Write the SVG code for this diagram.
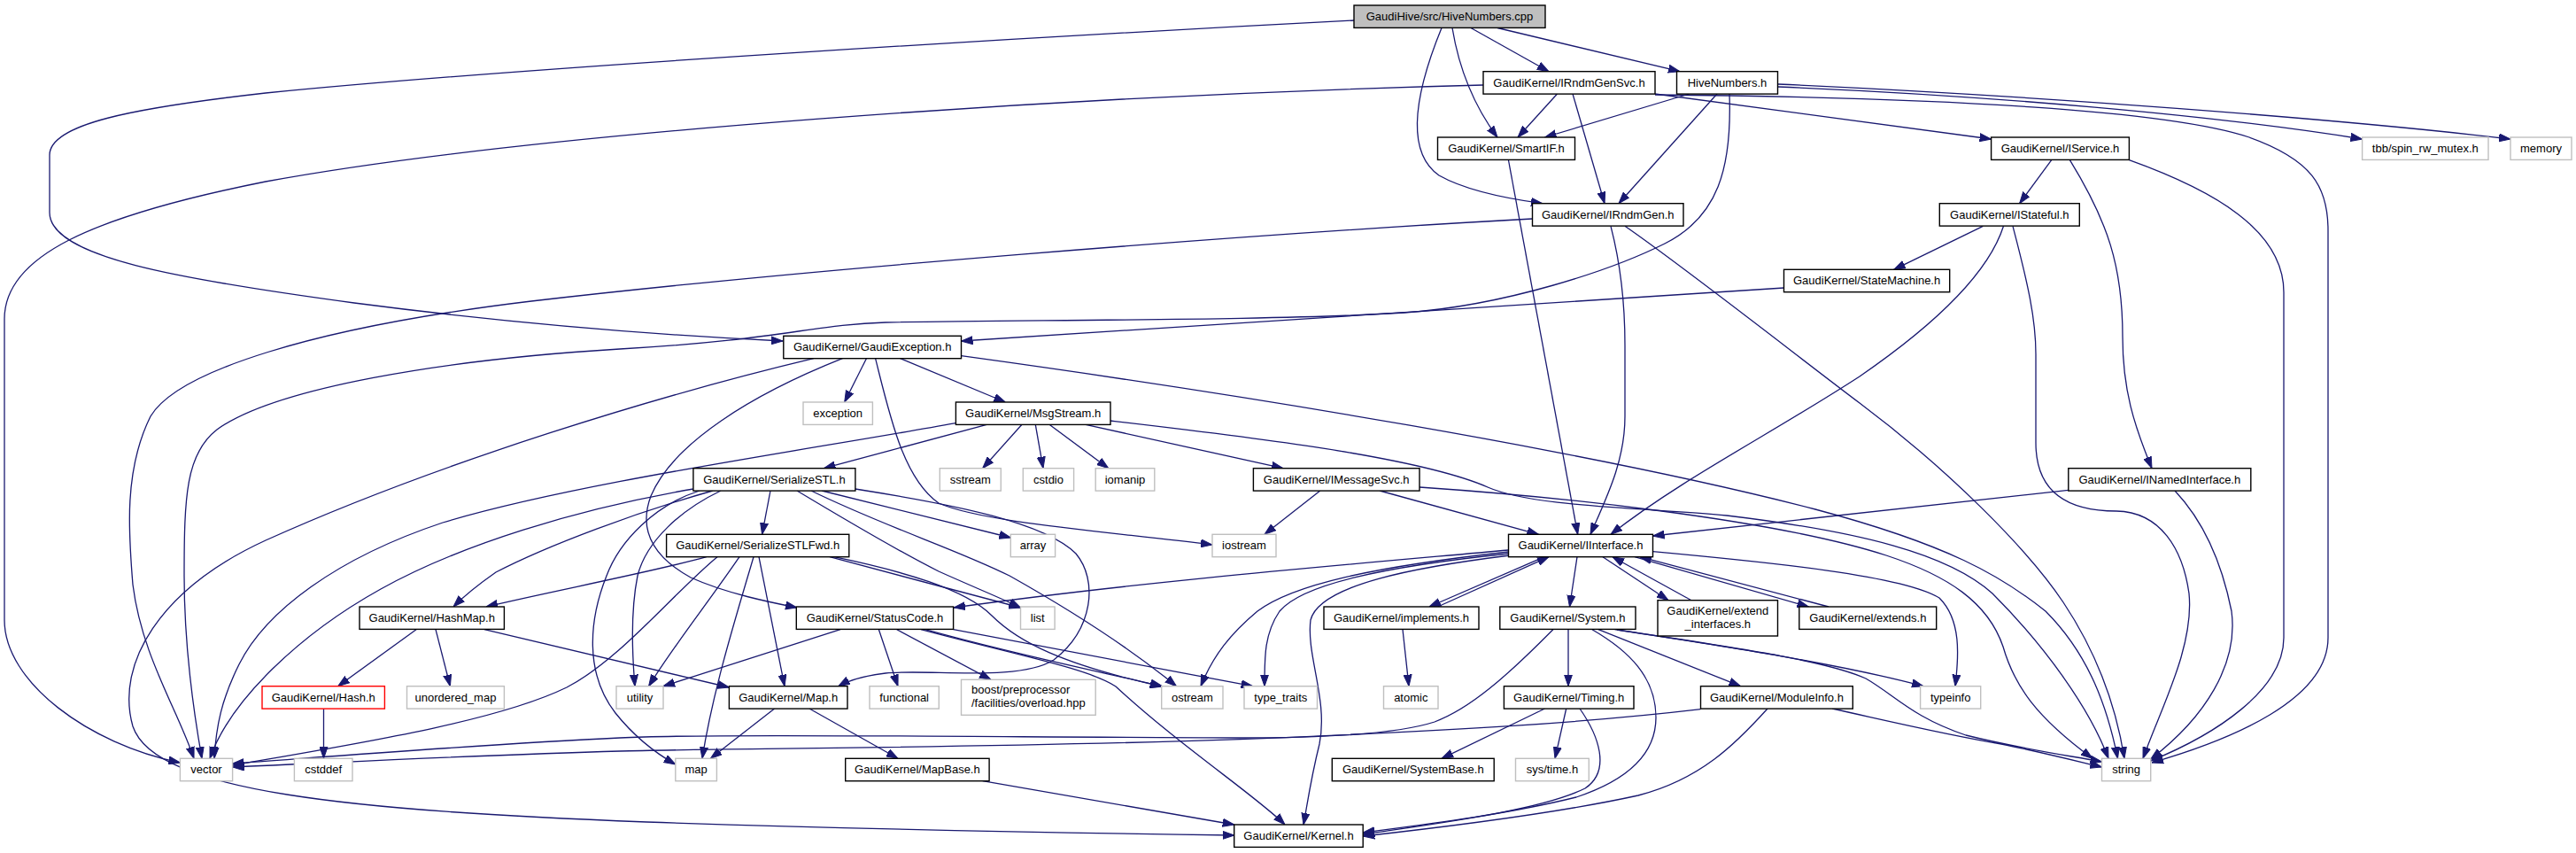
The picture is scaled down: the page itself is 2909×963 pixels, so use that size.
<svg xmlns="http://www.w3.org/2000/svg" width="2909" height="963" viewBox="0 0 2909 963">
<style>
.e{fill:none;stroke:#191970;stroke-width:1.3;marker-end:url(#a)}
.n rect{fill:#fff;stroke:#000;stroke-width:1.4}
.x rect{fill:#fff;stroke:#bfbfbf;stroke-width:1.4}
.r rect{fill:#fff;stroke:#ff0000;stroke-width:1.4}
.root rect{fill:#bfbfbf;stroke:#000;stroke-width:1.4}
text{font-family:"Liberation Sans",Arial,sans-serif;font-size:13px;fill:#000;text-anchor:middle}
text.l{text-anchor:start}
</style>
<defs>
<marker id="a" markerWidth="13" markerHeight="10" refX="13" refY="5" orient="auto" markerUnits="userSpaceOnUse"><path d="M0,0.5 L13,5 L0,9.5 z" fill="#191970" stroke="#191970" stroke-width="1"/></marker>
</defs>
<rect width="2909" height="963" fill="#fff"/>
<g id="edges">
<path class="e" d="M1529,23 C1200,40 600,75 300,105 C150,122 56,140 56,175 L56,240 C56,290 200,315 400,342 C600,368 780,380 884,385"/>
<path class="e" d="M1661,31.5 L1749,80.7"/>
<path class="e" d="M1640,31.5 C1648,80 1665,120 1691,155"/>
<path class="e" d="M1628,31.5 C1600,100 1585,170 1625,198 C1655,215 1700,224 1742,229.7"/>
<path class="e" d="M1691,31.5 L1897,80.7"/>
<path class="e" d="M1758.5,106 L1714,155"/>
<path class="e" d="M1776,106 L1812,229.7"/>
<path class="e" d="M1675,96 C1200,108 600,150 300,205 C100,245 5,290 5,360 L5,700 C5,770 100,840 203.4,861"/>
<path class="e" d="M1869,106 L2248.6,157"/>
<path class="e" d="M1869,107 C2200,110 2450,125 2540,155 C2610,180 2629,210 2629,260 L2629,720 C2629,790 2520,835 2430,861"/>
<path class="e" d="M1907.5,106 L1744.5,155"/>
<path class="e" d="M1939,106 L1828,229.7"/>
<path class="e" d="M1953,106 C1956,190 1940,245 1880,275 C1820,305 1700,345 1586,353 C1450,362 1150,361 1000,364 C920,366 880,384 700,394 C500,406 310,438 245,485 C210,512 208,560 208,650 C208,730 218,800 228,856.3"/>
<path class="e" d="M2007.5,98 C2250,108 2500,130 2667.6,157"/>
<path class="e" d="M2007.5,95 C2300,108 2650,135 2835,157"/>
<path class="e" d="M1703.5,181 L1781.7,603.3"/>
<path class="e" d="M1819,255.3 C1828,290 1835,330 1835,390 L1835,470 C1835,520 1815,560 1796,603.3"/>
<path class="e" d="M1730.5,247 C1400,265 900,305 600,340 C350,370 200,420 170,470 C140,530 145,600 150,660 C160,740 200,800 219,856.3"/>
<path class="e" d="M1835,255.3 C1900,300 2040,410 2100,455 C2200,530 2290,620 2330,680 C2370,740 2390,800 2399,856.3"/>
<path class="e" d="M2316.7,180.7 L2280.6,229.7"/>
<path class="e" d="M2337.4,180.7 C2380,250 2397,300 2397,380 C2397,440 2410,480 2430,528.7"/>
<path class="e" d="M2404.4,180.7 C2500,215 2579,260 2579,330 L2579,720 C2579,780 2500,830 2428.7,859"/>
<path class="e" d="M2239.3,255.3 L2138.7,304.3"/>
<path class="e" d="M2262.5,255.3 C2245,310 2180,370 2100,425 C2000,490 1900,540 1819,603.3"/>
<path class="e" d="M2273,255.3 C2290,320 2299,360 2299,400 L2299,500 C2299,560 2340,577 2390,577 C2440,578 2465,620 2472,670 C2478,730 2440,800 2420,856.3"/>
<path class="e" d="M2014.5,325 L1085.5,385"/>
<path class="e" d="M978.4,404.7 L953.7,454"/>
<path class="e" d="M1016.6,404.7 L1135.3,454"/>
<path class="e" d="M988.6,404.7 C1005,470 1020,540 1060,568 C1110,590 1250,600 1369,615"/>
<path class="e" d="M1085.5,401.7 C1400,445 1800,510 2050,575 C2200,615 2260,650 2310,690 C2360,740 2380,800 2391.5,856.3"/>
<path class="e" d="M951.4,404.7 C850,445 760,500 735,560 C720,600 740,630 780,652 C820,670 870,680 900,686"/>
<path class="e" d="M918.8,404.7 C750,445 500,520 300,610 C180,665 130,750 150,820 C175,895 400,915 730,928 C1000,937 1250,941 1393.7,943"/>
<path class="e" d="M1114.3,479.3 L930.4,528.7"/>
<path class="e" d="M1154,479.3 L1109.7,528.7"/>
<path class="e" d="M1169.3,479.3 L1178,528.7"/>
<path class="e" d="M1185,479.3 L1251.7,528.7"/>
<path class="e" d="M1226,479.3 L1449,528.7"/>
<path class="e" d="M1254,475 C1400,492 1600,515 1680,550 C1730,572 1850,573 1950,582 C2100,600 2200,625 2250,670 C2310,730 2360,800 2381,856.3"/>
<path class="e" d="M1079.4,477.7 C900,510 650,545 500,590 C380,630 300,690 270,750 C250,790 244,820 242,856.3"/>
<path class="e" d="M870,554 L860.6,603.3"/>
<path class="e" d="M928,554 L1141.3,607"/>
<path class="e" d="M783,552 C650,575 520,615 430,665 C340,715 260,790 237,856.3"/>
<path class="e" d="M805,554 C720,578 620,615 560,646 C540,660 525,672 512,685"/>
<path class="e" d="M814,554 C770,575 730,610 720,650 C712,690 714,740 717,774.7"/>
<path class="e" d="M790,554 C740,570 700,610 685,650 C665,700 660,760 695,805 C715,830 740,850 762.8,863"/>
<path class="e" d="M900,554 C960,590 1020,625 1060,645 C1100,663 1130,675 1152.5,686"/>
<path class="e" d="M916,554 C1000,595 1080,620 1140,650 C1220,695 1280,735 1328.5,774.7"/>
<path class="e" d="M965.8,552 C1080,570 1180,590 1215,625 C1240,655 1235,710 1190,745 C1150,770 1050,755 1000,760 C975,763 960,767 946.7,774.7"/>
<path class="e" d="M797.8,628.7 C740,645 620,668 549,685"/>
<path class="e" d="M810,628.7 C760,670 700,745 640,776 C560,815 400,840 262.6,864"/>
<path class="e" d="M835,628.7 C800,680 760,730 732.6,774.7"/>
<path class="e" d="M851,628.7 C830,700 805,780 793,856.3"/>
<path class="e" d="M857,628.7 L886,774.7"/>
<path class="e" d="M937,628.7 L1152.5,686"/>
<path class="e" d="M942,628.7 C1020,645 1090,665 1120,695 C1150,725 1200,750 1311.7,775"/>
<path class="e" d="M470,710.7 L381.7,774.7"/>
<path class="e" d="M492,710.7 L508.4,774.7"/>
<path class="e" d="M547,710.7 L823.4,776"/>
<path class="e" d="M365.5,800 L365.5,856.3"/>
<path class="e" d="M949,710.7 L749,774.7"/>
<path class="e" d="M992.4,710.7 L1014,774.7"/>
<path class="e" d="M1012.8,710.7 L1119,767.3"/>
<path class="e" d="M1045,710.7 C1150,740 1250,760 1313,775"/>
<path class="e" d="M1040,710.7 C1150,740 1230,755 1260,775 C1330,840 1420,900 1451,931"/>
<path class="e" d="M1076.6,710.7 L1414.6,774.7"/>
<path class="e" d="M874.6,800 L802.4,856.3"/>
<path class="e" d="M914,800 L1014,856.3"/>
<path class="e" d="M1109.7,881.7 L1393.7,931"/>
<path class="e" d="M1584,710.7 L1591,774.7"/>
<path class="e" d="M1623.5,685 L1749,628.7"/>
<path class="e" d="M1744,628.7 L1614,685"/>
<path class="e" d="M1781,628.7 L1772.5,685"/>
<path class="e" d="M1810,628.7 L1884,677.7"/>
<path class="e" d="M1910,677.7 L1821,628.7"/>
<path class="e" d="M1846,628.7 L2042.5,685"/>
<path class="e" d="M2065,685 L1852,628.7"/>
<path class="e" d="M1703.5,621 C1550,635 1300,655 1077,686"/>
<path class="e" d="M1703.5,623 C1550,640 1460,660 1420,690 C1390,715 1370,740 1356,774.7"/>
<path class="e" d="M1703.5,625 C1560,640 1470,660 1445,690 C1428,715 1428,740 1428,774.7"/>
<path class="e" d="M1705,627 C1600,640 1490,660 1480,700 C1475,740 1500,790 1490,840 C1480,880 1476,910 1472,931"/>
<path class="e" d="M1866.5,622.7 C2000,635 2150,650 2190,675 C2215,700 2212,740 2208,774.7"/>
<path class="e" d="M1771,710.7 L1771,774.7"/>
<path class="e" d="M1805,710.7 L1965.6,774.7"/>
<path class="e" d="M1798,710.7 C1840,735 1870,765 1870,810 C1870,850 1840,880 1780,900 C1700,920 1600,932 1539.2,940"/>
<path class="e" d="M1753.8,710.7 C1700,765 1660,800 1620,815 C1580,828 1500,833 1400,833 C1100,832 800,828 700,833 C550,840 400,852 262.6,862"/>
<path class="e" d="M1823.6,710.7 C1950,730 2080,750 2172,774.7"/>
<path class="e" d="M1826,711 C1950,730 2060,745 2107,766 C2140,785 2160,810 2220,830 C2280,845 2330,852 2373.5,860"/>
<path class="e" d="M1744.5,800 L1628,856.3"/>
<path class="e" d="M1768.7,800 L1756,856.3"/>
<path class="e" d="M1784,800 C1805,830 1820,870 1790,890 C1740,915 1620,930 1539.2,942"/>
<path class="e" d="M1996,800 C1960,840 1920,880 1850,898 C1750,920 1620,935 1539.2,944"/>
<path class="e" d="M1920.5,800.7 C1800,815 1650,825 1400,834.7 C1100,845 800,845 700,848 C550,852 400,860 262.6,866"/>
<path class="e" d="M2069,800 C2150,818 2200,830 2260,840 C2300,848 2340,858 2373.5,866"/>
<path class="e" d="M1490.8,554 L1428,603.3"/>
<path class="e" d="M1558,554 L1737.5,603.3"/>
<path class="e" d="M1603,550 C1750,560 2000,585 2130,627 C2200,650 2245,680 2262,730 C2275,775 2300,810 2363,856.3"/>
<path class="e" d="M2335.8,553.3 L1866.5,605"/>
<path class="e" d="M2456,554 C2490,590 2510,640 2520,690 C2528,750 2490,810 2428.7,857"/>
</g>
<g id="n_root" class="root"><rect x="1529" y="6" width="216" height="25.4"/><text x="1637" y="23">GaudiHive/src/HiveNumbers.cpp</text></g>
<g id="n_irndmgensvc" class="n"><rect x="1675" y="80.7" width="194" height="25.4"/><text x="1772" y="97.7">GaudiKernel/IRndmGenSvc.h</text></g>
<g id="n_hivenumbers" class="n"><rect x="1893.5" y="80.7" width="114" height="25.4"/><text x="1950.5" y="97.7">HiveNumbers.h</text></g>
<g id="n_smartif" class="n"><rect x="1623.5" y="155" width="155" height="25.4"/><text x="1701" y="172">GaudiKernel/SmartIF.h</text></g>
<g id="n_iservice" class="n"><rect x="2248.6" y="155" width="155.8" height="25.4"/><text x="2326.5" y="172">GaudiKernel/IService.h</text></g>
<g id="n_tbb" class="x"><rect x="2667.6" y="155" width="142.4" height="25.4"/><text x="2738.8" y="172">tbb/spin_rw_mutex.h</text></g>
<g id="n_memory" class="x"><rect x="2835" y="155" width="69" height="25.4"/><text x="2869.5" y="172">memory</text></g>
<g id="n_irndmgen" class="n"><rect x="1730.5" y="229.7" width="170.5" height="25.4"/><text x="1815.8" y="246.7">GaudiKernel/IRndmGen.h</text></g>
<g id="n_istateful" class="n"><rect x="2190.3" y="229.7" width="158" height="25.4"/><text x="2269.3" y="246.7">GaudiKernel/IStateful.h</text></g>
<g id="n_statemachine" class="n"><rect x="2014.5" y="304.3" width="187.2" height="25.4"/><text x="2108.1" y="321.3">GaudiKernel/StateMachine.h</text></g>
<g id="n_gaudiexception" class="n"><rect x="884.8" y="379.3" width="200.7" height="25.4"/><text x="985.2" y="396.3">GaudiKernel/GaudiException.h</text></g>
<g id="n_exception" class="x"><rect x="907" y="454" width="78.4" height="25.4"/><text x="946.2" y="471">exception</text></g>
<g id="n_msgstream" class="n"><rect x="1079.4" y="454" width="174.6" height="25.4"/><text x="1166.7" y="471">GaudiKernel/MsgStream.h</text></g>
<g id="n_serializestl" class="n"><rect x="782.9" y="528.7" width="183" height="25.4"/><text x="874.4" y="545.7">GaudiKernel/SerializeSTL.h</text></g>
<g id="n_sstream" class="x"><rect x="1061.3" y="528.7" width="69" height="25.4"/><text x="1095.8" y="545.7">sstream</text></g>
<g id="n_cstdio" class="x"><rect x="1155.3" y="528.7" width="57.3" height="25.4"/><text x="1184" y="545.7">cstdio</text></g>
<g id="n_iomanip" class="x"><rect x="1237.2" y="528.7" width="66.6" height="25.4"/><text x="1270.5" y="545.7">iomanip</text></g>
<g id="n_imessagesvc" class="n"><rect x="1415.4" y="528.7" width="187.6" height="25.4"/><text x="1509.2" y="545.7">GaudiKernel/IMessageSvc.h</text></g>
<g id="n_inamedinterface" class="n"><rect x="2335.8" y="528.7" width="206" height="25.4"/><text x="2438.8" y="545.7">GaudiKernel/INamedInterface.h</text></g>
<g id="n_serializestlfwd" class="n"><rect x="752.6" y="603.3" width="206.2" height="25.4"/><text x="855.7" y="620.3">GaudiKernel/SerializeSTLFwd.h</text></g>
<g id="n_array" class="x"><rect x="1141.3" y="603.3" width="50.3" height="25.4"/><text x="1166.5" y="620.3">array</text></g>
<g id="n_iostream" class="x"><rect x="1369" y="603.3" width="72" height="25.4"/><text x="1405" y="620.3">iostream</text></g>
<g id="n_iinterface" class="n"><rect x="1703.5" y="603.3" width="163" height="25.4"/><text x="1785" y="620.3">GaudiKernel/IInterface.h</text></g>
<g id="n_hashmap" class="n"><rect x="406" y="685" width="163.4" height="25.4"/><text x="487.7" y="702">GaudiKernel/HashMap.h</text></g>
<g id="n_statuscode" class="n"><rect x="899.3" y="685" width="177.3" height="25.4"/><text x="988" y="702">GaudiKernel/StatusCode.h</text></g>
<g id="n_list" class="x"><rect x="1152.5" y="685" width="38.6" height="25.4"/><text x="1171.8" y="702">list</text></g>
<g id="n_implements" class="n"><rect x="1495" y="685" width="175" height="25.4"/><text x="1582.5" y="702">GaudiKernel/implements.h</text></g>
<g id="n_system" class="n"><rect x="1693.8" y="685" width="153.2" height="25.4"/><text x="1770.4" y="702">GaudiKernel/System.h</text></g>
<g id="n_extend_interfaces" class="n"><rect x="1872" y="677.7" width="135.5" height="40.3"/><text x="1939.8" y="694.2">GaudiKernel/extend</text><text x="1939.8" y="709.2">_interfaces.h</text></g>
<g id="n_extends" class="n"><rect x="2031.8" y="685" width="154.9" height="25.4"/><text x="2109.3" y="702">GaudiKernel/extends.h</text></g>
<g id="n_hash" class="r"><rect x="296" y="774.7" width="138.4" height="25.4"/><text x="365.2" y="791.7">GaudiKernel/Hash.h</text></g>
<g id="n_unordered_map" class="x"><rect x="459.5" y="774.7" width="109.9" height="25.4"/><text x="514.5" y="791.7">unordered_map</text></g>
<g id="n_utility" class="x"><rect x="696" y="774.7" width="53" height="25.4"/><text x="722.5" y="791.7">utility</text></g>
<g id="n_map_h" class="n"><rect x="823.4" y="774.7" width="133.6" height="25.4"/><text x="890.2" y="791.7">GaudiKernel/Map.h</text></g>
<g id="n_functional" class="x"><rect x="982" y="774.7" width="78.3" height="25.4"/><text x="1021.2" y="791.7">functional</text></g>
<g id="n_boost" class="x"><rect x="1085.5" y="767.3" width="151.7" height="40"/><text class="l" x="1097" y="783.3">boost/preprocessor</text><text class="l" x="1097" y="798.3">/facilities/overload.hpp</text></g>
<g id="n_ostream" class="x"><rect x="1311.7" y="774.7" width="69.3" height="25.4"/><text x="1346.4" y="791.7">ostream</text></g>
<g id="n_type_traits" class="x"><rect x="1405" y="774.7" width="82.5" height="25.4"/><text x="1446.3" y="791.7">type_traits</text></g>
<g id="n_atomic" class="x"><rect x="1562.5" y="774.7" width="61.5" height="25.4"/><text x="1593.3" y="791.7">atomic</text></g>
<g id="n_timing" class="n"><rect x="1698.4" y="774.7" width="146.6" height="25.4"/><text x="1771.7" y="791.7">GaudiKernel/Timing.h</text></g>
<g id="n_moduleinfo" class="n"><rect x="1920.5" y="774.7" width="171.8" height="25.4"/><text x="2006.4" y="791.7">GaudiKernel/ModuleInfo.h</text></g>
<g id="n_typeinfo" class="x"><rect x="2168.6" y="774.7" width="68.1" height="25.4"/><text x="2202.7" y="791.7">typeinfo</text></g>
<g id="n_vector" class="x"><rect x="203.4" y="856.3" width="59.2" height="25.4"/><text x="233" y="873.3">vector</text></g>
<g id="n_cstddef" class="x"><rect x="332.4" y="856.3" width="65.6" height="25.4"/><text x="365.2" y="873.3">cstddef</text></g>
<g id="n_map" class="x"><rect x="762.8" y="856.3" width="46.6" height="25.4"/><text x="786.1" y="873.3">map</text></g>
<g id="n_mapbase" class="n"><rect x="954.7" y="856.3" width="162.4" height="25.4"/><text x="1035.9" y="873.3">GaudiKernel/MapBase.h</text></g>
<g id="n_systembase" class="n"><rect x="1504.3" y="856.3" width="182.9" height="25.4"/><text x="1595.8" y="873.3">GaudiKernel/SystemBase.h</text></g>
<g id="n_systime" class="x"><rect x="1711.5" y="856.3" width="82.8" height="25.4"/><text x="1752.9" y="873.3">sys/time.h</text></g>
<g id="n_string" class="x"><rect x="2373.5" y="856.3" width="55.2" height="25.4"/><text x="2401.1" y="873.3">string</text></g>
<g id="n_kernel" class="n"><rect x="1393.7" y="931" width="145.5" height="25.4"/><text x="1466.5" y="948">GaudiKernel/Kernel.h</text></g>
</svg>
